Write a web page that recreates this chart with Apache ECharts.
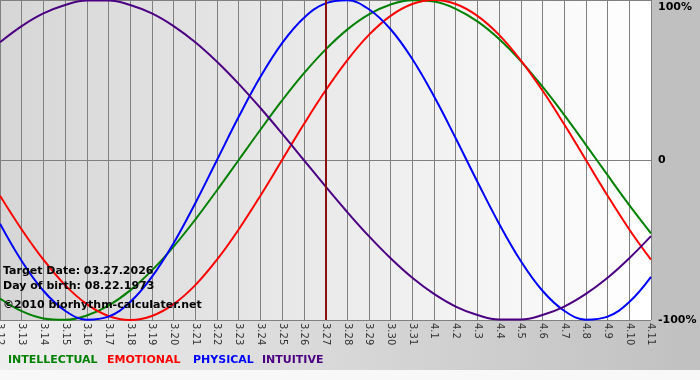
<!DOCTYPE html>
<html>
<head>
<meta charset="utf-8">
<script src="https://cdn.jsdelivr.net/npm/echarts@6/dist/echarts.min.js"></script>
<style>
html,body{margin:0;padding:0;background:#c0c0c0;}
#chart{width:700px;height:380px;}
</style>
</head>
<body>
<div id="chart"></div>
<script>
var dates = ['3.12','3.13','3.14','3.15','3.16','3.17','3.18','3.19','3.20','3.21','3.22','3.23','3.24','3.25','3.26','3.27','3.28','3.29','3.30','3.31','4.1','4.2','4.3','4.4','4.5','4.6','4.7','4.8','4.9','4.10','4.11'];
var intellectual = [-86.6,-94.5,-99.0,-99.9,-97.2,-91.0,-81.5,-69.0,-54.1,-37.2,-18.9,0,18.9,37.2,54.1,69.0,81.5,91.0,97.2,99.9,99.0,94.5,86.6,75.6,61.8,45.8,28.2,9.5,-9.5,-28.2,-45.8];
var emotional = [-22.3,-43.4,-62.3,-78.2,-90.1,-97.5,-100,-97.5,-90.1,-78.2,-62.3,-43.4,-22.3,0,22.3,43.4,62.3,78.2,90.1,97.5,100,97.5,90.1,78.2,62.3,43.4,22.3,0,-22.3,-43.4,-62.3];
var physical = [-39.8,-63.1,-81.7,-94.2,-99.8,-97.9,-88.8,-73.1,-52.0,-27.0,0,27.0,52.0,73.1,88.8,97.9,99.8,94.2,81.7,63.1,39.8,13.6,-13.6,-39.8,-63.1,-81.7,-94.2,-99.8,-97.9,-88.8,-73.1];
var intuitive = [73.6,83.7,91.6,96.9,99.7,99.7,96.9,91.6,83.7,73.6,61.4,47.6,32.5,16.5,0,-16.5,-32.5,-47.6,-61.4,-73.6,-83.7,-91.6,-96.9,-99.7,-99.7,-96.9,-91.6,-83.7,-73.6,-61.4,-47.6];
var yTicks = {'100':'100%','0':'0','-100':'-100%'};
var targetDate = '3.27';
var infoLines = ['Target Date: 03.27.2026','Day of birth: 08.22.1973','\u00a92010 biorhythm-calculater.net'];
var legendNames = ['INTELLECTUAL','EMOTIONAL','PHYSICAL','INTUITIVE'];
var colors = ['#008000','#ff0000','#0000ff','#4b0082'];

var chart = echarts.init(document.getElementById('chart'));
var font = 'Verdana, "DejaVu Sans", sans-serif';
function mk(name, data, color){
  return {name:name,type:'line',data:data,smooth:0.4,symbol:'none',
    lineStyle:{color:color,width:2},itemStyle:{color:color},z:3};
}
var series = [
  mk(legendNames[0], intellectual, colors[0]),
  mk(legendNames[1], emotional, colors[1]),
  mk(legendNames[2], physical, colors[2]),
  mk(legendNames[3], intuitive, colors[3])
];
series[0].markLine = {silent:true,symbol:'none',label:{show:false},
  lineStyle:{color:'#8b1010',width:2,type:'solid'},data:[{xAxis:targetDate}]};

var legendX = [8,107,193,262];
var graphics = [
  {type:'rect',left:0,top:320,z:-10,shape:{width:700,height:50},
   style:{fill:new echarts.graphic.LinearGradient(0,0,1,0,[{offset:0,color:'#eeeeee'},{offset:1,color:'#c0c0c0'}])}},
  {type:'rect',left:0,top:370,z:-10,shape:{width:700,height:10},style:{fill:'#f8f8f8'}}
];
legendNames.forEach(function(n,i){
  graphics.push({type:'text',left:legendX[i],top:355,z:10,
    style:{text:n,fill:colors[i],font:'bold 11px '+font}});
});
var infoY = [266,281,300];
infoLines.forEach(function(t,i){
  graphics.push({type:'text',left:3,top:infoY[i],z:10,
    style:{text:t,fill:'#000',font:'bold 11px '+font}});
});

chart.setOption({
  animation:false,
  backgroundColor:'#c0c0c0',
  grid:{left:0,right:49,top:0,bottom:60,show:true,borderWidth:0,containLabel:false,outerBoundsMode:'none',
    backgroundColor:new echarts.graphic.LinearGradient(0,0,1,0,[{offset:0,color:'#d6d6d6'},{offset:1,color:'#ffffff'}])},
  xAxis:{type:'category',data:dates,boundaryGap:false,
    axisLine:{show:true,lineStyle:{color:'#808080',width:1}},
    axisTick:{show:true,length:4,interval:0,lineStyle:{color:'#808080'}},
    axisLabel:{interval:0,rotate:-90,margin:3,fontSize:10,color:'#333',fontFamily:font,hideOverlap:false},
    splitLine:{show:true,interval:0,lineStyle:{color:'#808080',width:1}}},
  yAxis:{type:'value',min:-100,max:100,interval:100,position:'right',
    axisLine:{show:false},axisTick:{show:false},
    axisLabel:{margin:7,fontSize:11,fontWeight:'bold',color:'#000',fontFamily:font,
      formatter:function(v){ return v === 100 ? '{t|' + yTicks[String(v)] + '}' : yTicks[String(v)]; },
      rich:{t:{fontSize:11,fontWeight:'bold',color:'#000',fontFamily:font,padding:[14,0,0,0]}}},
    splitLine:{show:true,lineStyle:{color:'#808080',width:1}}},
  graphic:graphics,
  series:series
});
</script>
</body>
</html>
